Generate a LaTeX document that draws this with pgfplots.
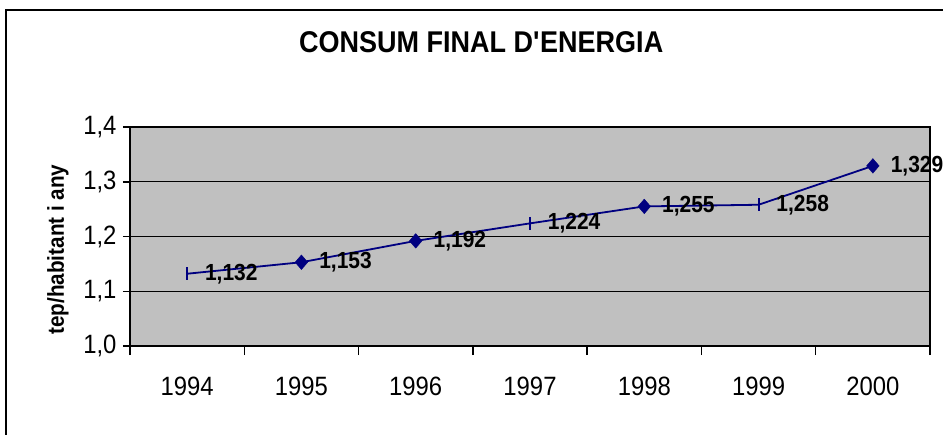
\documentclass[border=0pt]{standalone}
\usepackage{fontspec}
\setmainfont[FakeStretch=0.9]{Liberation Sans}
\usepackage{pgfplots}
\pgfplotsset{compat=1.18}
\definecolor{plotgray}{RGB}{192,192,192}
\definecolor{navyline}{RGB}{0,0,128}
\begin{document}
\begin{tikzpicture}[x=1pt,y=1pt]
\useasboundingbox (0,0) rectangle (943,-434);
\draw[line width=2pt] (6,-450) -- (6,-10) -- (960,-10);
\begin{axis}[
  at={(130pt,-346pt)}, anchor=south west,
  scale only axis, width=800pt, height=219pt,
  xmin=-0.5, xmax=6.5, ymin=1.0, ymax=1.4,
  axis background/.style={fill=plotgray},
  axis line style={black, line width=1.5pt},
  xtick={0,...,6},
  xticklabels={1994,1995,1996,1997,1998,1999,2000},
  minor xtick={-0.5,0.5,...,6.5},
  xtick pos=bottom, ytick pos=left,
  tick align=outside,
  major x tick style={draw=none},
  minor x tick style={black, line width=1.5pt},
  minor tick length=9pt,
  ytick={1.0,1.1,1.2,1.3,1.4},
  major y tick style={black, line width=1.5pt},
  major tick length=7pt,
  ymajorgrids, grid style={black, line width=1pt},
  /pgf/number format/.cd, fixed, fixed zerofill, precision=1, use comma, assume math mode=true,
  /pgfplots/.cd,
  ticklabel style={font=\fontsize{26.5}{26.5}\selectfont},
  xticklabel style={yshift=-20pt},
  yticklabel style={xshift=-3pt},
  ylabel={tep/habitant i any},
  ylabel style={font=\bfseries\fontsize{23}{23}\selectfont, at={(axis description cs:-0.09,0.44)}, anchor=center},
  title={CONSUM FINAL D\textquotesingle ENERGIA},
  title style={font=\bfseries\fontsize{30}{30}\selectfont, at={(axis description cs:0.439,1.36)}, anchor=center},
]
\addplot[navyline, line width=1.8pt,
  nodes near coords,
  every node near coord/.append style={font=\bfseries\fontsize{23.3}{23.3}\selectfont, black, anchor=west, inner sep=0pt, xshift=17pt,
    /pgf/number format/.cd, fixed, fixed zerofill, precision=3, use comma, assume math mode=true},
] coordinates {
  (0,1.132) (1,1.153) (2,1.192) (3,1.224) (4,1.255) (5,1.258) (6,1.329)
};
\addplot[only marks, mark=diamond*, mark size=7.3pt, navyline, mark options={xscale=1.15}]
  coordinates {(1,1.153) (2,1.192) (4,1.255) (6,1.329)};
\addplot[only marks, mark=|, mark size=6.5pt, navyline, mark options={line width=2pt}]
  coordinates {(0,1.132) (3,1.224) (5,1.258)};
\end{axis}
\end{tikzpicture}
\end{document}
